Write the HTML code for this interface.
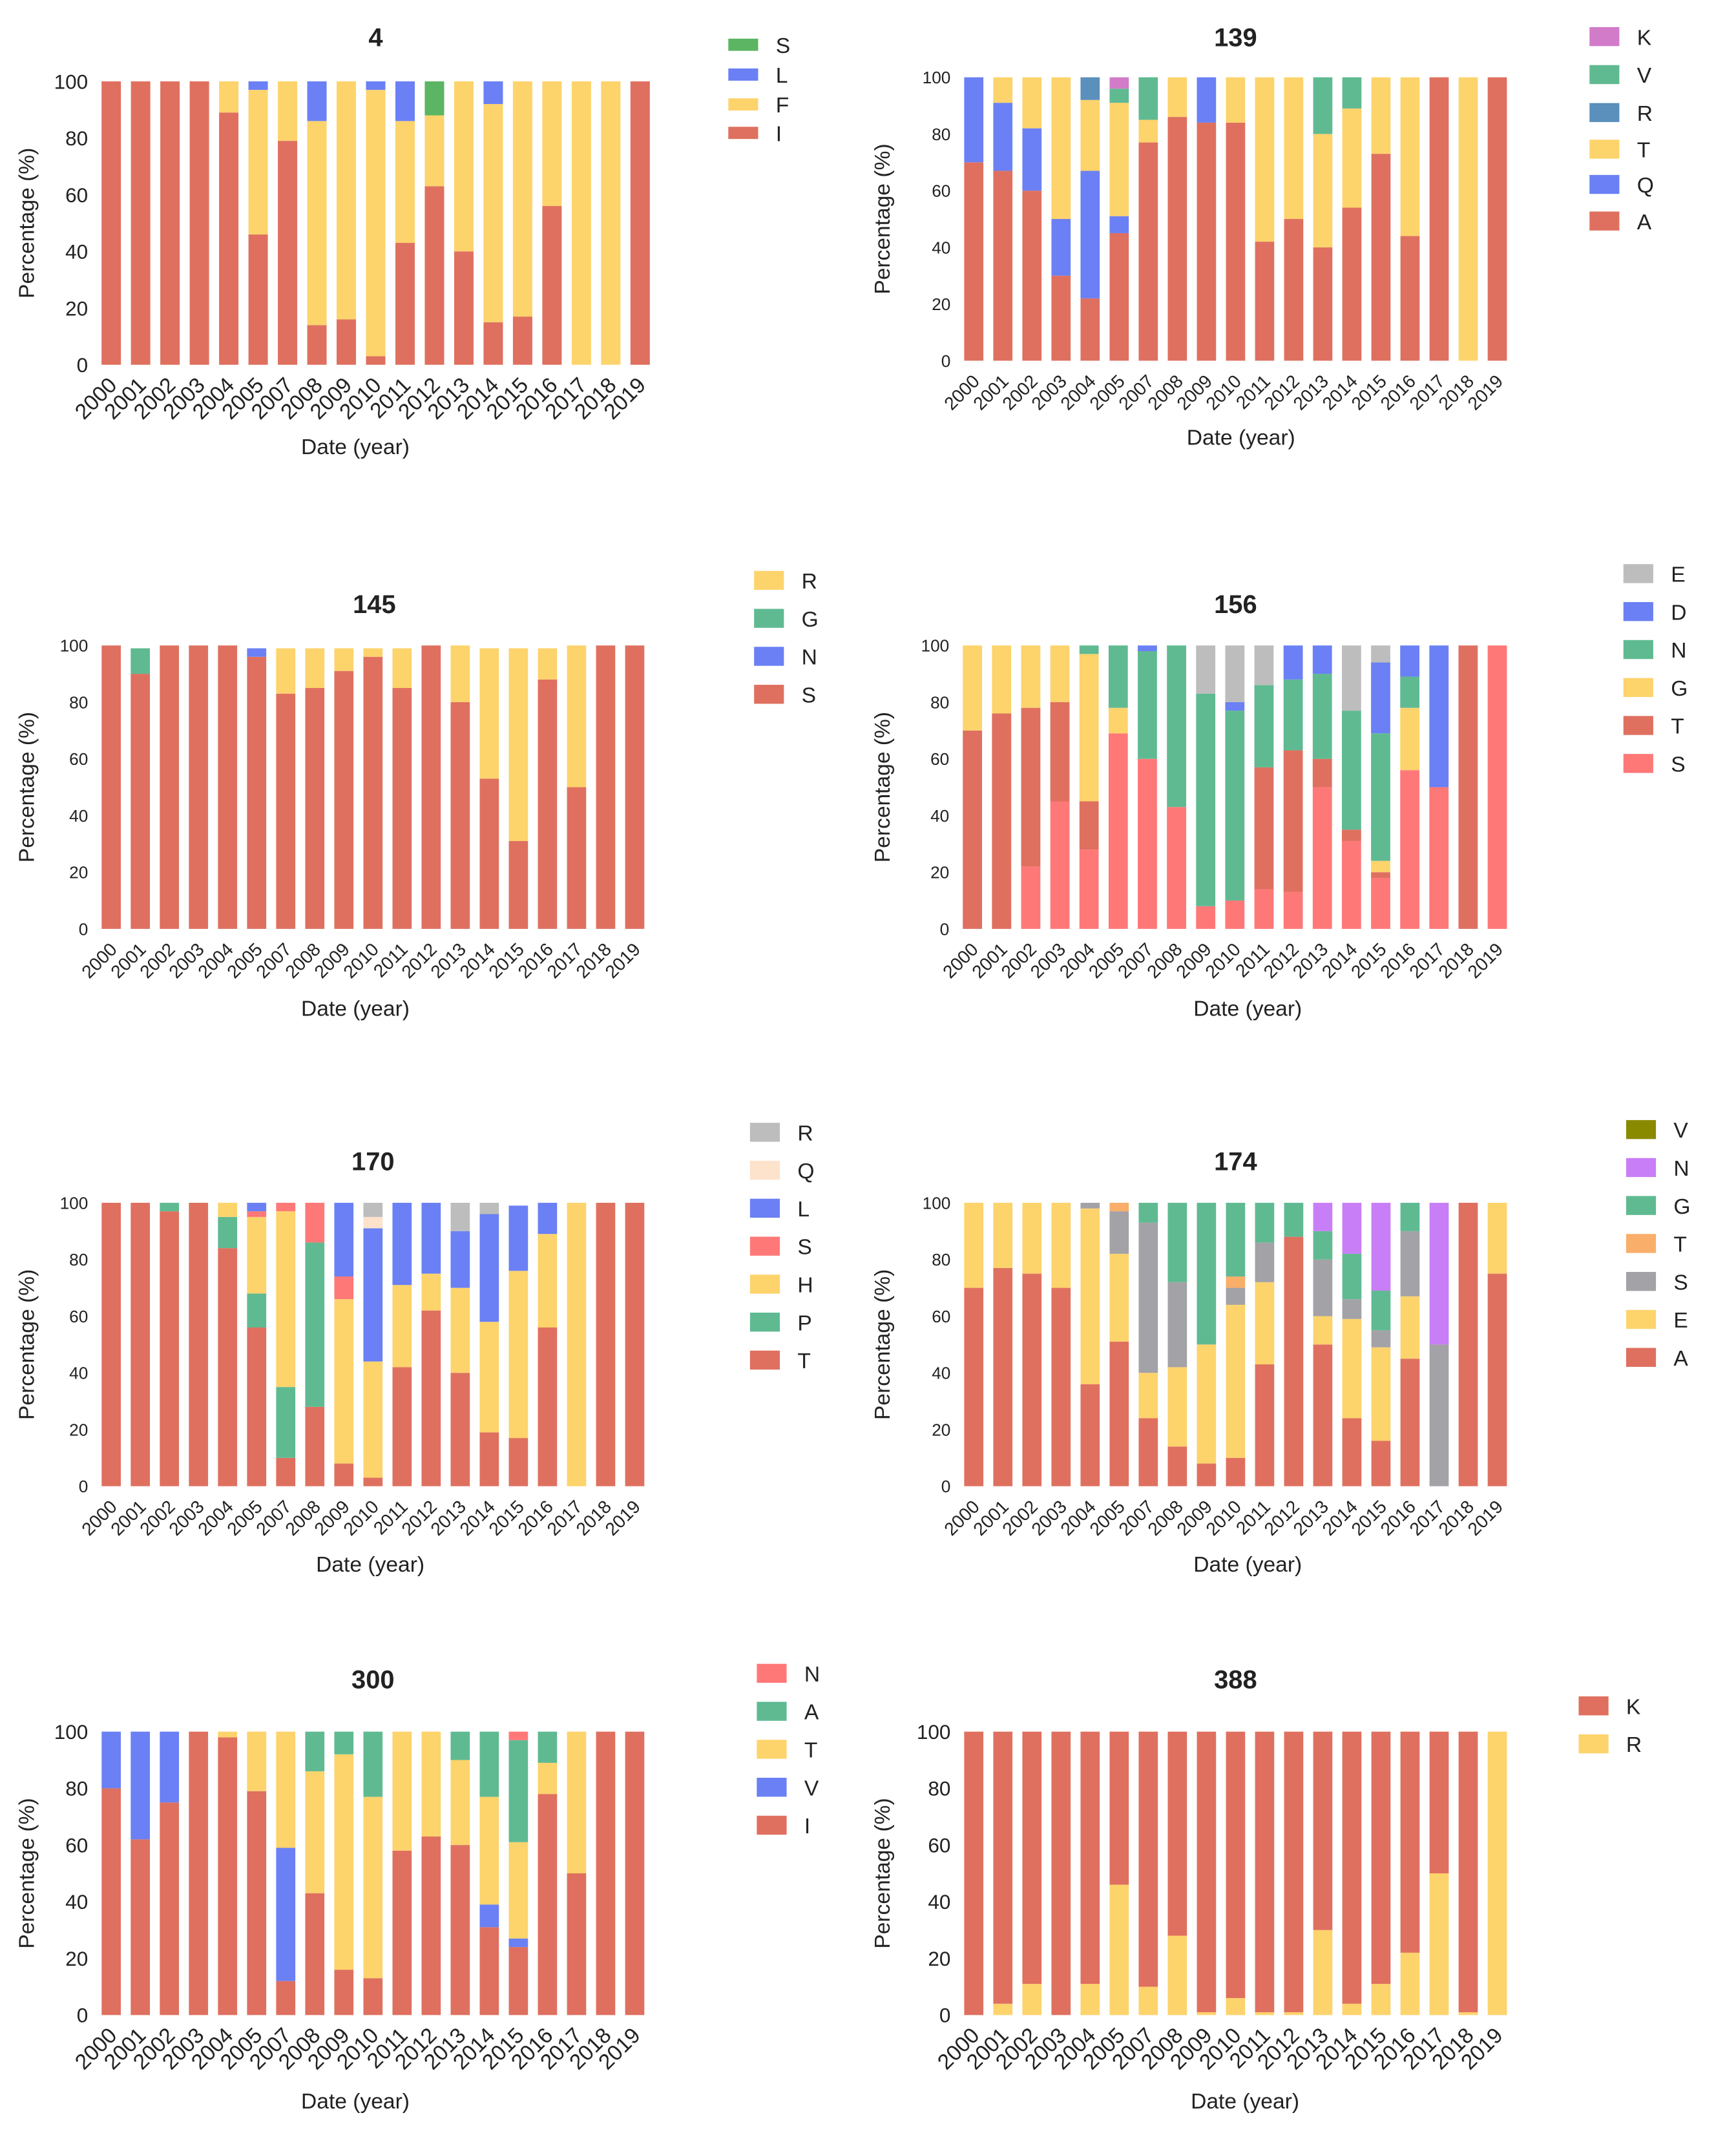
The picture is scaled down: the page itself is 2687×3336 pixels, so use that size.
<!DOCTYPE html>
<html><head><meta charset="utf-8">
<style>
html,body{margin:0;padding:0;background:#fff;}
svg{display:block;}
text{font-family:"Liberation Sans",Arial,sans-serif;fill:#222;}
</style></head>
<body>
<svg id="fig" width="2687" height="3336" viewBox="0 0 1280 1589.2" xmlns="http://www.w3.org/2000/svg"></svg>
<script>
const years = ["2000","2001","2002","2003","2004","2005","2007","2008","2009","2010","2011","2012","2013","2014","2015","2016","2017","2018","2019"];
const yTicks = [0,20,40,60,80,100];

// Panel "4" (bottom -> top): I, F, L, S
const p4_I = [100,100,100,100,89,46,79,14,16,3,43,63,40,15,17,56,0,0,100];
const p4_F = [0,0,0,0,11,51,21,72,84,94,43,25,60,77,83,44,100,100,0];
const p4_L = [0,0,0,0,0,3,0,14,0,3,14,0,0,8,0,0,0,0,0];
const p4_S = [0,0,0,0,0,0,0,0,0,0,0,12,0,0,0,0,0,0,0];

// Panel "139": A, Q, T, R, V, K
const p139_A = [70,67,60,30,22,45,77,86,84,84,42,50,40,54,73,44,100,0,100];
const p139_Q = [30,24,22,20,45,6,0,0,16,0,0,0,0,0,0,0,0,0,0];
const p139_T = [0,9,18,50,25,40,8,14,0,16,58,50,40,35,27,56,0,100,0];
const p139_R = [0,0,0,0,8,0,0,0,0,0,0,0,0,0,0,0,0,0,0];
const p139_V = [0,0,0,0,0,5,15,0,0,0,0,0,20,11,0,0,0,0,0];
const p139_K = [0,0,0,0,0,4,0,0,0,0,0,0,0,0,0,0,0,0,0];

// Panel "145": S, N, G, R
const p145_S = [100,90,100,100,100,96,83,85,91,96,85,100,80,53,31,88,50,100,100];
const p145_N = [0,0,0,0,0,3,0,0,0,0,0,0,0,0,0,0,0,0,0];
const p145_G = [0,9,0,0,0,0,0,0,0,0,0,0,0,0,0,0,0,0,0];
const p145_R = [0,0,0,0,0,0,16,14,8,3,14,0,20,46,68,11,50,0,0];

// Panel "156": S, T, G, N, D, E
const p156_S = [0,0,22,45,28,69,60,43,8,10,14,13,50,31,18,56,50,0,100];
const p156_T = [70,76,56,35,17,0,0,0,0,0,43,50,10,4,2,0,0,100,0];
const p156_G = [30,24,22,20,52,9,0,0,0,0,0,0,0,0,4,22,0,0,0];
const p156_N = [0,0,0,0,3,22,38,57,75,67,29,25,30,42,45,11,0,0,0];
const p156_D = [0,0,0,0,0,0,2,0,0,3,0,12,10,0,25,11,50,0,0];
const p156_E = [0,0,0,0,0,0,0,0,17,20,14,0,0,23,6,0,0,0,0];

// Panel "170": T, P, H, S, L, Q, R
const p170_T = [100,100,97,100,84,56,10,28,8,3,42,62,40,19,17,56,0,100,100];
const p170_P = [0,0,3,0,11,12,25,58,0,0,0,0,0,0,0,0,0,0,0];
const p170_H = [0,0,0,0,5,27,62,0,58,41,29,13,30,39,59,33,100,0,0];
const p170_S = [0,0,0,0,0,2,3,14,8,0,0,0,0,0,0,0,0,0,0];
const p170_L = [0,0,0,0,0,3,0,0,26,47,29,25,20,38,23,11,0,0,0];
const p170_Q = [0,0,0,0,0,0,0,0,0,4,0,0,0,0,0,0,0,0,0];
const p170_R = [0,0,0,0,0,0,0,0,0,5,0,0,10,4,0,0,0,0,0];

// Panel "174": A, E, S, T, G, N, V
const p174_A = [70,77,75,70,36,51,24,14,8,10,43,88,50,24,16,45,0,100,75];
const p174_E = [30,23,25,30,62,31,16,28,42,54,29,0,10,35,33,22,0,0,25];
const p174_S = [0,0,0,0,2,15,53,30,0,6,14,0,20,7,6,23,50,0,0];
const p174_T = [0,0,0,0,0,3,0,0,0,4,0,0,0,0,0,0,0,0,0];
const p174_G = [0,0,0,0,0,0,7,28,50,26,14,12,10,16,14,10,0,0,0];
const p174_N = [0,0,0,0,0,0,0,0,0,0,0,0,10,18,31,0,50,0,0];
const p174_V = [0,0,0,0,0,0,0,0,0,0,0,0,0,0,0,0,0,0,0];

// Panel "300": I, V, T, A, N
const p300_I = [80,62,75,100,98,79,12,43,16,13,58,63,60,31,24,78,50,100,100];
const p300_V = [20,38,25,0,0,0,47,0,0,0,0,0,0,8,3,0,0,0,0];
const p300_T = [0,0,0,0,2,21,41,43,76,64,42,37,30,38,34,11,50,0,0];
const p300_A = [0,0,0,0,0,0,0,14,8,23,0,0,10,23,36,11,0,0,0];
const p300_N = [0,0,0,0,0,0,0,0,0,0,0,0,0,0,3,0,0,0,0];

// Panel "388": R (bottom), K
const p388_R = [0,4,11,0,11,46,10,28,1,6,1,1,30,4,11,22,50,1,100];
const p388_K = [100,96,89,100,89,54,90,72,99,94,99,99,70,96,89,78,50,99,0];

const C = {red:"#df705f", yel:"#fdd36c", blu:"#6a80f4", grn:"#5fba92", pink:"#d27bc9", steel:"#5b8fbc",
  grey:"#bdbdbd", dgrey:"#a3a2a7", salmon:"#ff7878", peach:"#fde2cc", olive:"#8a8a00", violet:"#c87ef6",
  orange:"#f9ae6a", sgreen:"#5cb563"};

const panels = [
 {id:"4", left:true, x0:82, x1:472, yb:269, yt:60, tx:277, ty:27, fs:15, lx:537, ly:[33,55,77,98], ls:"dense", dx:262, dy:330, ytx:25,
  series:[["I",p4_I,C.red],["F",p4_F,C.yel],["L",p4_L,C.blu],["S",p4_S,C.sgreen]]},
 {id:"139", x0:718, x1:1104, yb:266, yt:57, tx:911, ty:27, fs:12.5, lx:1172, ly:[27,55,83,110,136,163], dx:915, dy:323, ytx:656,
  series:[["A",p139_A,C.red],["Q",p139_Q,C.blu],["T",p139_T,C.yel],["R",p139_R,C.steel],["V",p139_V,C.grn],["K",p139_K,C.pink]]},
 {id:"145", x0:82, x1:468, yb:685, yt:476, tx:276, ty:445, fs:12.5, lx:556, ly:[428,456,484,512], dx:262, dy:744, ytx:25,
  series:[["S",p145_S,C.red],["N",p145_N,C.blu],["G",p145_G,C.grn],["R",p145_R,C.yel]]},
 {id:"156", x0:717, x1:1104, yb:685, yt:476, tx:911, ty:445, fs:12.5, lx:1197, ly:[423,451,479,507,535,563], dx:920, dy:744, ytx:656,
  series:[["S",p156_S,C.salmon],["T",p156_T,C.red],["G",p156_G,C.yel],["N",p156_N,C.grn],["D",p156_D,C.blu],["E",p156_E,C.grey]]},
 {id:"170", x0:82, x1:468, yb:1096, yt:887, tx:275, ty:856, fs:12.5, lx:553, ly:[835,863,891,919,947,975,1003], dx:273, dy:1154, ytx:25,
  series:[["T",p170_T,C.red],["P",p170_P,C.grn],["H",p170_H,C.yel],["S",p170_S,C.salmon],["L",p170_L,C.blu],["Q",p170_Q,C.peach],["R",p170_R,C.grey]]},
 {id:"174", x0:718, x1:1104, yb:1096, yt:887, tx:911, ty:856, fs:12.5, lx:1199, ly:[833,861,889,917,945,973,1001], dx:920, dy:1154, ytx:656,
  series:[["A",p174_A,C.red],["E",p174_E,C.yel],["S",p174_S,C.dgrey],["T",p174_T,C.orange],["G",p174_G,C.grn],["N",p174_N,C.violet],["V",p174_V,C.olive]]},
 {id:"300", x0:82, x1:468, yb:1486, yt:1277, tx:275, ty:1238, fs:15, lx:558, ly:[1234,1262,1290,1318,1346], dx:262, dy:1550, ytx:25,
  series:[["I",p300_I,C.red],["V",p300_V,C.blu],["T",p300_T,C.yel],["A",p300_A,C.grn],["N",p300_N,C.salmon]]},
 {id:"388", x0:718, x1:1104, yb:1486, yt:1277, tx:911, ty:1238, fs:15, lx:1164, ly:[1258,1286], dx:918, dy:1550, ytx:656,
  series:[["R",p388_R,C.yel],["K",p388_K,C.red]], legendOrder:["K","R"]}
];

const NS="http://www.w3.org/2000/svg";
const fig=document.getElementById('fig');
function mk(tag, attrs, parent, txt){
  const e=document.createElementNS(NS,tag);
  for(const k in attrs) e.setAttribute(k,attrs[k]);
  if(txt!==undefined) e.textContent=txt;
  parent.appendChild(e); return e;
}

panels.forEach(p=>{
  const g=mk('g',{},fig);
  
  
  const step=(p.x1-p.x0)/(years.length-1);
  const bw=step*0.66;
  const xS=i=>p.x0+i*step;
  const yS=v=>p.yb-(p.yb-p.yt)*v/100;
  // title
  const t=mk('text',{x:p.tx,y:p.ty+7,'text-anchor':'middle','font-size':19,'font-weight':'bold'},g,p.id);
  
  
  // y ticks
  yTicks.forEach(v=>{
    const tt=mk('text',{x:p.x0-bw/2-10,y:yS(v)+p.fs*0.36,'text-anchor':'end','font-size':p.fs},g,String(v));
    
    
  });
  // y title
  const ycy=(p.yb+p.yt)/2;
  const yt=mk('text',{x:p.ytx,y:ycy,'text-anchor':'middle','font-size':16,transform:`rotate(-90 ${p.ytx} ${ycy})`},g,'Percentage (%)');
  
  
  // bars
  years.forEach((yr,i)=>{
    let cum=0;
    p.series.forEach(([nm,arr,col])=>{
      const v=arr[i];
      if(v>0){
        const r=mk('rect',{x:xS(i)-bw/2,y:yS(cum+v),width:bw,height:yS(cum)-yS(cum+v),fill:col},g);
        
        
      }
      cum+=v;
    });
    const lx=xS(i)+5, ly=p.yb+16;
    const xl=mk('text',{x:lx,y:ly,'text-anchor':'end','font-size':p.fs+1,transform:`rotate(-45 ${lx} ${ly})`},g,yr);
    
    
  });
  const dt=mk('text',{x:p.dx,y:p.dy+5,'text-anchor':'middle','font-size':16},g,'Date (year)');
  
  
  // legend (top series first)
  let order = p.series.slice().reverse();
  if(p.legendOrder) order = p.legendOrder.map(n=>p.series.find(s=>s[0]===n));
  const sw = p.ls==="dense"?22:22, sh = p.ls==="dense"?9:14;
  order.forEach((s,k)=>{
    const y=p.ly[k];
    const sq=mk('rect',{x:p.lx,y:y-sh/2,width:sw,height:sh,fill:s[2]},g);
    
    
    const lt=mk('text',{x:p.lx+sw+13,y:y+6,'font-size':16},g,s[0]);
    
    
  });
});
</script>
</body></html>
